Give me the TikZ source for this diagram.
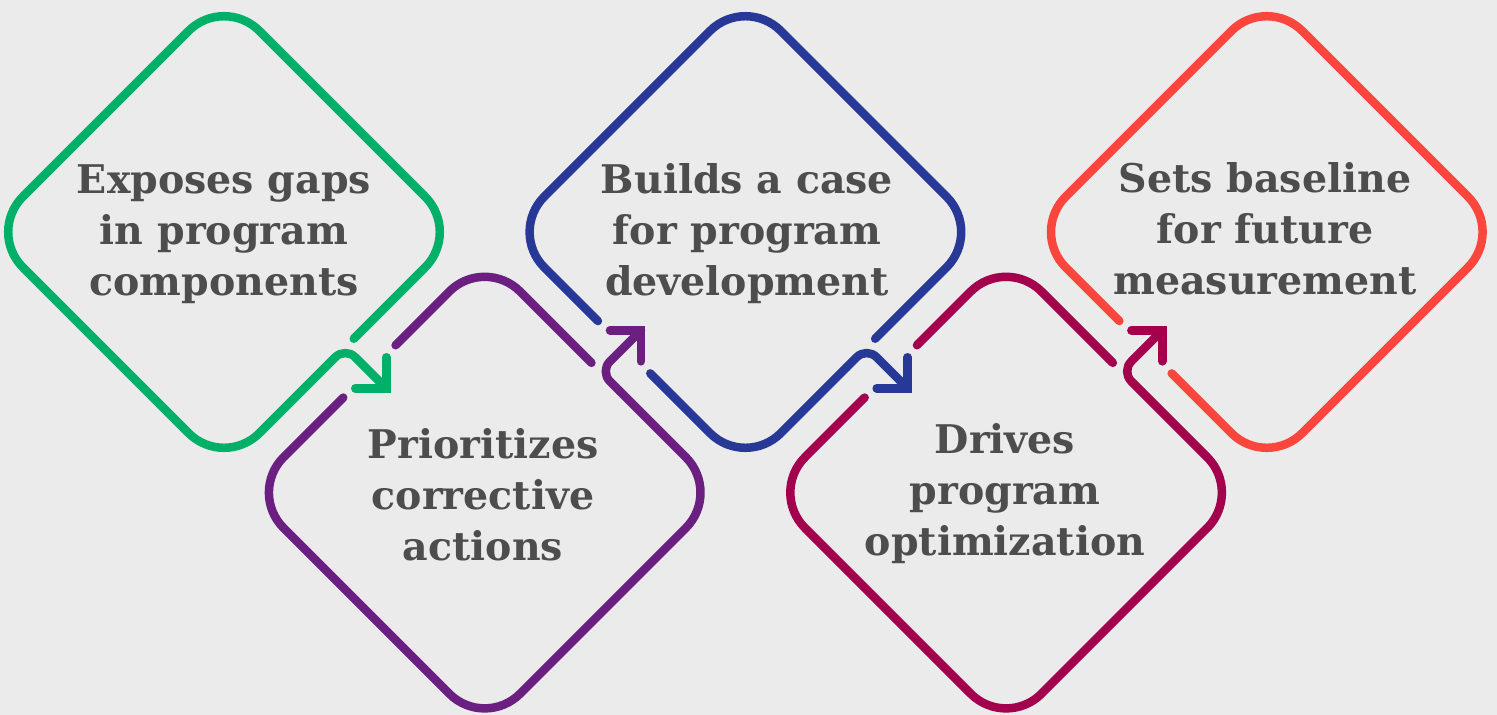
\documentclass[tikz,border=0pt]{standalone}
\usepackage{fontspec}
\usetikzlibrary{calc}
\newfontfamily\labelfont{DejaVu Serif Bold}
\definecolor{bgc}{HTML}{EBEBEB}
\definecolor{txt}{HTML}{4D4D4D}
\definecolor{cG}{HTML}{00B069}
\definecolor{cP}{HTML}{6B1F80}
\definecolor{cB}{HTML}{283896}
\definecolor{cC}{HTML}{A3004E}
\definecolor{cR}{HTML}{FA463C}
\begin{document}
\begin{tikzpicture}[x=1pt,y=-1pt,
  ring/.style={line width=8.5pt, line cap=round, line join=round, rounded corners=50pt},
  turn/.style={line width=8.5pt, line cap=round, line join=round, rounded corners=14pt},
  head/.style={line width=8.5pt, line cap=round, line join=miter},
  lbl/.style={font=\labelfont\fontsize{39.5}{51}\selectfont, text=txt, align=center, inner sep=0pt}]
\fill[bgc] (0,0) rectangle (1497,715);
\useasboundingbox (0,0) rectangle (1497,715);
% diamond 1
\coordinate (T1) at (224,-4.5); \coordinate (R1) at (460.5,232);
\coordinate (B1) at (224,468.5); \coordinate (L1) at (-12.5,232);
\coordinate (C1) at (345.25,347.25); \coordinate (E1) at (353.75,338.75);
\coordinate (Q1) at (325.25,367.25); \coordinate (A1) at (386.25,388.25);
% diamond 2
\coordinate (T2) at (484.7,256.1); \coordinate (R2) at (721.2,492.6);
\coordinate (B2) at (484.7,729.1); \coordinate (L2) at (248.2,492.6);
\coordinate (C2) at (599.95,371.35); \coordinate (E2) at (591.45,362.85);
\coordinate (Q2) at (619.95,391.35); \coordinate (A2) at (640.95,330.35);
% diamond 3
\coordinate (T3) at (745.4,-4.5); \coordinate (R3) at (981.9,232);
\coordinate (B3) at (745.4,468.5); \coordinate (L3) at (508.9,232);
\coordinate (C3) at (866.65,347.25); \coordinate (E3) at (875.15,338.75);
\coordinate (Q3) at (846.65,367.25); \coordinate (A3) at (907.65,388.25);
% diamond 4
\coordinate (T4) at (1006.1,256.1); \coordinate (R4) at (1242.6,492.6);
\coordinate (B4) at (1006.1,729.1); \coordinate (L4) at (769.6,492.6);
\coordinate (C4) at (1121.35,371.35); \coordinate (E4) at (1112.85,362.85);
\coordinate (Q4) at (1141.35,391.35); \coordinate (A4) at (1162.35,330.35);
% diamond 5
\coordinate (T5) at (1266.8,-4.5); \coordinate (R5) at (1503.3,232);
\coordinate (B5) at (1266.8,468.5); \coordinate (L5) at (1030.3,232);
% crossings and gaps
\coordinate (X2) at (intersection of C1--A1 and L2--T2);
\coordinate (X3) at (intersection of C2--A2 and L3--B3);
\coordinate (X4) at (intersection of C3--A3 and L4--T4);
\coordinate (X5) at (intersection of C4--A4 and L5--B5);
\coordinate (G2a) at ($(X2)!37pt!(T2)$); \coordinate (G2b) at ($(X2)!37pt!(L2)$);
\coordinate (G3a) at ($(X3)!37pt!(B3)$); \coordinate (G3b) at ($(X3)!37pt!(L3)$);
\coordinate (G4a) at ($(X4)!37pt!(T4)$); \coordinate (G4b) at ($(X4)!37pt!(L4)$);
\coordinate (G5a) at ($(X5)!37pt!(B5)$); \coordinate (G5b) at ($(X5)!37pt!(L5)$);
% diamond 1 drawing
\draw[ring,cG] (E1) -- (R1) -- (T1) -- (L1) -- (B1) -- (Q1);
\draw[turn,cG] (Q1) -- (C1) -- (A1);
\draw[head,cG] ($(A1)+(-31,0)$) -- (A1) -- ($(A1)+(0,-31)$);
% diamond 2 drawing
\draw[ring,cP] (E2) -- (T2) -- (G2a);
\draw[ring,cP] (G2b) -- (L2) -- (B2) -- (R2) -- (Q2);
\draw[turn,cP] (Q2) -- (C2) -- (A2);
\draw[head,cP] ($(A2)+(-31,0)$) -- (A2) -- ($(A2)+(0,31)$);
% diamond 3 drawing
\draw[ring,cB] (E3) -- (R3) -- (T3) -- (L3) -- (G3b);
\draw[ring,cB] (G3a) -- (B3) -- (Q3);
\draw[turn,cB] (Q3) -- (C3) -- (A3);
\draw[head,cB] ($(A3)+(-31,0)$) -- (A3) -- ($(A3)+(0,-31)$);
% diamond 4 drawing
\draw[ring,cC] (E4) -- (T4) -- (G4a);
\draw[ring,cC] (G4b) -- (L4) -- (B4) -- (R4) -- (Q4);
\draw[turn,cC] (Q4) -- (C4) -- (A4);
\draw[head,cC] ($(A4)+(-31,0)$) -- (A4) -- ($(A4)+(0,31)$);
% diamond 5 drawing
\draw[ring,cR] (G5a) -- (B5) -- (R5) -- (T5) -- (L5) -- (G5b);
% labels
\node[lbl] (t1) at (224,234) {Exposes gaps\\in program\\components};
\node[lbl] (t2) at (483,495) {Prioritizes\\corrective\\actions};
\node[lbl] (t3) at (747,234) {Builds a case\\for program\\development};
\node[lbl] (t4) at (1005,494) {Drives\\program\\optimization};
\node[lbl] (t5) at (1265,229) {Sets baseline\\for future\\measurement};
\end{tikzpicture}
\end{document}
